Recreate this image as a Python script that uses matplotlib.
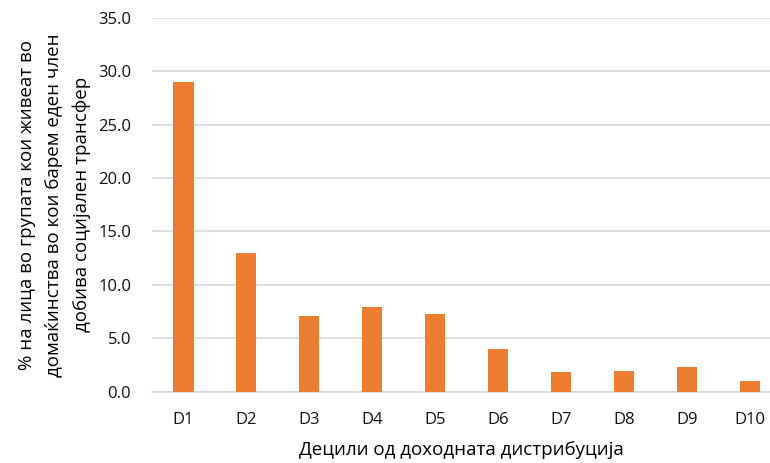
import matplotlib.pyplot as plt

plt.rcParams['font.family'] = ['Open Sans', 'DejaVu Sans']

categories = ['D1', 'D2', 'D3', 'D4', 'D5', 'D6', 'D7', 'D8', 'D9', 'D10']
values = [29.0, 13.0, 7.1, 7.9, 7.3, 4.0, 1.85, 1.9, 2.25, 1.0]
yticks = [0, 5, 10, 15, 20, 25, 30, 35]

fig = plt.figure(figsize=(7.7, 4.63), dpi=100)
ax = fig.add_axes([152 / 770, 1 - 391.5 / 463, 618 / 770, 373.5 / 463])

x = range(len(categories))
ax.bar(x, values, width=0.32, color='#ED7D31', zorder=3)

ax.set_ylim(0, 35)
ax.set_xlim(-0.5, 9.32)
ax.set_yticks(yticks)
ax.set_yticklabels(['%.1f' % v for v in yticks], fontsize=12)
ax.set_xticks(list(x))
ax.set_xticklabels(categories, fontsize=12)
ax.tick_params(axis='both', length=0, colors='#111111')
ax.tick_params(axis='x', pad=15)
ax.tick_params(axis='y', pad=15)

ax.grid(axis='y', color='#D9D9D9', linewidth=1.2, zorder=0)
for s in ['top', 'right', 'left']:
    ax.spines[s].set_visible(False)
ax.spines['bottom'].set_color('#D9D9D9')
ax.spines['bottom'].set_linewidth(1.2)

ax.set_xlabel('Децили од доходната дистрибуција', fontsize=13.5, labelpad=9)
ax.set_ylabel('% на лица во групата кои живеат во\nдомаќинства во кои барем еден член\nдобива социјален трансфер',
              fontsize=13.5, labelpad=5, linespacing=1.65)

fig.savefig('out.png', dpi=100)
